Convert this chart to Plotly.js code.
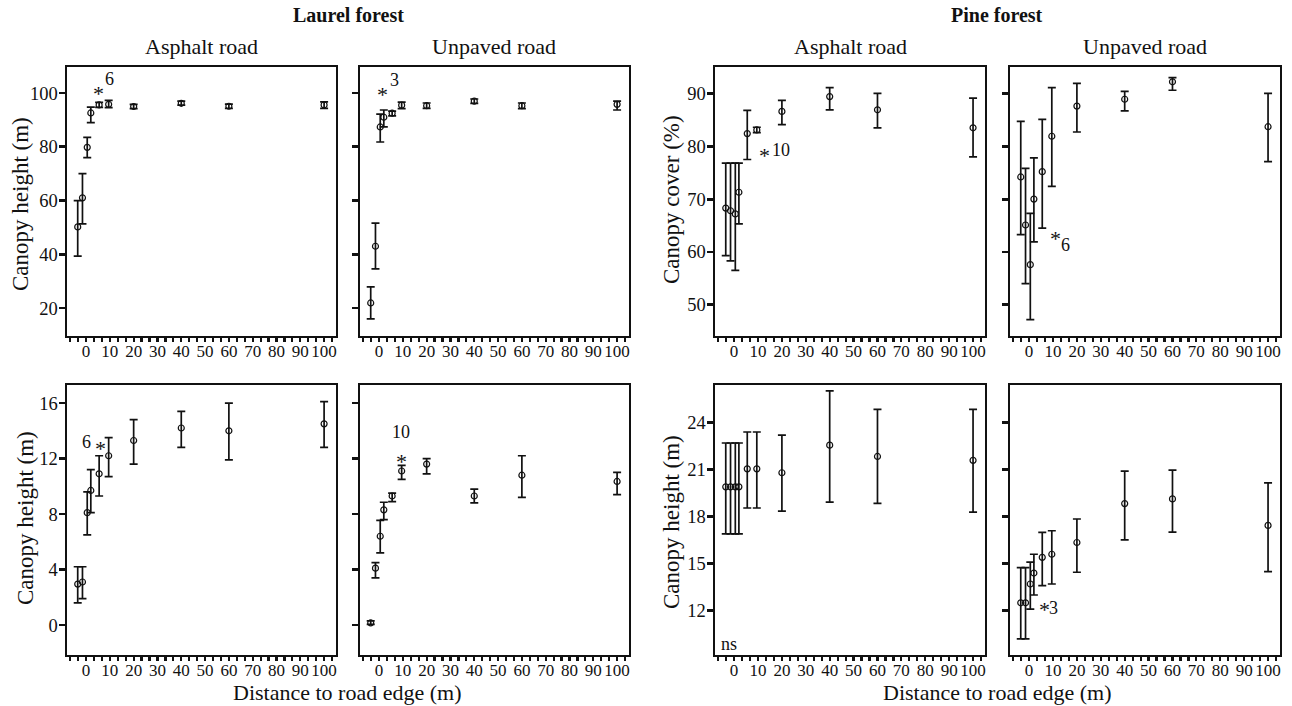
<!DOCTYPE html>
<html>
<head>
<meta charset="utf-8">
<script src="https://cdn.plot.ly/plotly-3.0.1.min.js"></script>
<style>html,body{margin:0;padding:0;background:#fff;}#chart{width:1292px;height:706px;}</style>
</head>
<body>
<div id="chart"></div>
<script>
// Distance to road edge (m) - shared x positions of the sampling points
const distance = [-3.5, -1.5, 0.5, 2, 5.5, 9.5, 20, 40, 60, 100];
const xTickVals = [0, 10, 20, 30, 40, 50, 60, 70, 80, 90, 100];

// Laurel forest, asphalt road, top panel
const laurelAsphaltTopMean  = [50.2, 61.0, 79.8, 92.6, 95.6, 95.8, 95.0, 96.2, 95.1, 95.6];
const laurelAsphaltTopUpper = [60.0, 70.0, 83.5, 94.8, 96.5, 97.3, 95.8, 97.0, 95.9, 96.7];
const laurelAsphaltTopLower = [39.3, 51.3, 76.0, 89.0, 94.7, 94.6, 94.2, 95.5, 94.3, 94.3];
// Laurel forest, unpaved road, top panel
const laurelUnpavedTopMean  = [21.9, 43.0, 87.4, 91.0, 92.5, 95.5, 95.3, 97.0, 95.3, 95.8];
const laurelUnpavedTopUpper = [27.9, 51.6, 92.2, 93.7, 93.3, 96.6, 96.3, 97.8, 96.3, 97.0];
const laurelUnpavedTopLower = [16.0, 34.6, 81.8, 87.4, 91.5, 94.2, 94.3, 96.2, 94.2, 93.7];
// Pine forest, asphalt road, canopy cover
const pineAsphaltTopMean  = [68.3, 67.8, 67.2, 71.3, 82.4, 83.1, 86.6, 89.4, 86.9, 83.5];
const pineAsphaltTopUpper = [76.8, 76.8, 76.8, 76.8, 86.8, 83.6, 88.7, 91.1, 90.0, 89.1];
const pineAsphaltTopLower = [59.3, 58.3, 56.5, 65.3, 77.5, 82.6, 84.1, 86.9, 83.5, 78.0];
// Pine forest, unpaved road, canopy cover
const pineUnpavedTopMean  = [74.2, 65.1, 57.6, 70.0, 75.2, 81.9, 87.6, 88.9, 92.2, 83.7];
const pineUnpavedTopUpper = [84.7, 75.8, 67.3, 77.8, 85.1, 91.1, 91.9, 90.4, 93.0, 90.0];
const pineUnpavedTopLower = [63.3, 54.0, 47.2, 61.9, 64.5, 72.4, 82.7, 86.7, 90.6, 77.1];
// Laurel forest, asphalt road, canopy height
const laurelAsphaltBotMean  = [2.95, 3.1, 8.1, 9.7, 10.9, 12.2, 13.3, 14.2, 14.0, 14.5];
const laurelAsphaltBotUpper = [4.2, 4.2, 9.6, 11.2, 12.2, 13.5, 14.8, 15.4, 16.0, 16.1];
const laurelAsphaltBotLower = [1.6, 1.9, 6.5, 8.1, 9.3, 10.7, 11.6, 12.8, 11.9, 12.8];
// Laurel forest, unpaved road, canopy height
const laurelUnpavedBotMean  = [0.15, 4.1, 6.4, 8.3, 9.3, 11.1, 11.6, 9.3, 10.8, 10.35];
const laurelUnpavedBotUpper = [0.3, 4.5, 7.55, 8.85, 9.5, 11.5, 12.0, 9.8, 12.2, 11.0];
const laurelUnpavedBotLower = [0.05, 3.4, 5.2, 7.6, 8.9, 10.5, 10.9, 8.8, 9.2, 9.4];
// Pine forest, asphalt road, canopy height
const pineAsphaltBotMean  = [19.9, 19.9, 19.9, 19.9, 21.05, 21.05, 20.8, 22.56, 21.84, 21.59];
const pineAsphaltBotUpper = [22.7, 22.7, 22.7, 22.7, 23.4, 23.4, 23.2, 26.03, 24.85, 24.85];
const pineAsphaltBotLower = [16.9, 16.9, 16.9, 16.9, 18.55, 18.55, 18.35, 18.93, 18.84, 18.29];
// Pine forest, unpaved road, canopy height
const pineUnpavedBotMean  = [12.5, 12.5, 13.7, 14.4, 15.4, 15.6, 16.35, 18.83, 19.13, 17.44];
const pineUnpavedBotUpper = [14.75, 14.75, 15.1, 15.6, 17.0, 17.1, 17.85, 20.9, 20.97, 20.15];
const pineUnpavedBotLower = [10.2, 10.2, 12.1, 13.0, 13.6, 13.7, 14.45, 16.52, 17.01, 14.49];

const W = 1292, H = 706;
const FONT = "Liberation Serif, Times New Roman, serif";
const px = v => v / W;
const py = v => 1 - v / H;

const panels = [
  {mean: laurelAsphaltTopMean, up: laurelAsphaltTopUpper, lo: laurelAsphaltTopLower, col: 0, row: 0, range: [9.6, 109.7], ticks: [20, 40, 60, 80, 100], labels: true},
  {mean: laurelUnpavedTopMean, up: laurelUnpavedTopUpper, lo: laurelUnpavedTopLower, col: 1, row: 0, range: [9.6, 109.7], ticks: [20, 40, 60, 80, 100], labels: false},
  {mean: pineAsphaltTopMean, up: pineAsphaltTopUpper, lo: pineAsphaltTopLower, col: 2, row: 0, range: [44.1, 95.0], ticks: [50, 60, 70, 80, 90], labels: true},
  {mean: pineUnpavedTopMean, up: pineUnpavedTopUpper, lo: pineUnpavedTopLower, col: 3, row: 0, range: [44.1, 95.0], ticks: [50, 60, 70, 80, 90], labels: false},
  {mean: laurelAsphaltBotMean, up: laurelAsphaltBotUpper, lo: laurelAsphaltBotLower, col: 0, row: 1, range: [-2.16, 17.3], ticks: [0, 4, 8, 12, 16], labels: true},
  {mean: laurelUnpavedBotMean, up: laurelUnpavedBotUpper, lo: laurelUnpavedBotLower, col: 1, row: 1, range: [-2.16, 17.3], ticks: [0, 4, 8, 12, 16], labels: false},
  {mean: pineAsphaltBotMean, up: pineAsphaltBotUpper, lo: pineAsphaltBotLower, col: 2, row: 1, range: [9.17, 26.4], ticks: [12, 15, 18, 21, 24], labels: true},
  {mean: pineUnpavedBotMean, up: pineUnpavedBotUpper, lo: pineUnpavedBotLower, col: 3, row: 1, range: [9.17, 26.4], ticks: [12, 15, 18, 21, 24], labels: false}
];

const colPx = [[67, 336], [360, 629], [715, 985], [1010, 1280]];
const rowPx = [[67, 336], [385, 655]];

const data = [];
const layout = {
  width: W, height: H,
  margin: {l: 0, r: 0, t: 0, b: 0},
  paper_bgcolor: '#ffffff', plot_bgcolor: '#ffffff',
  showlegend: false,
  font: {family: FONT, color: '#111', size: 17},
  annotations: []
};

panels.forEach((p, i) => {
  const n = i + 1;
  const xa = 'x' + (n === 1 ? '' : n), ya = 'y' + (n === 1 ? '' : n);
  data.push({
    type: 'scatter', mode: 'markers', x: distance, y: p.mean,
    xaxis: xa, yaxis: ya,
    marker: {symbol: 'circle-open', size: 6, color: '#111', line: {width: 1.2, color: '#111'}},
    error_y: {type: 'data', symmetric: false,
      array: p.up.map((u, k) => u - p.mean[k]),
      arrayminus: p.lo.map((l, k) => p.mean[k] - l),
      color: '#111', thickness: 1.7, width: 4},
    hoverinfo: 'x+y'
  });
  const c = colPx[p.col], r = rowPx[p.row];
  layout['xaxis' + (n === 1 ? '' : n)] = {
    domain: [px(c[0]), px(c[1])], anchor: ya,
    range: [-8, 105], tickmode: 'array', tickvals: xTickVals, tickangle: 0,
    showline: true, mirror: true, linecolor: '#111', linewidth: 1.6,
    ticks: 'outside', ticklen: 4, tickwidth: 2.2, tickcolor: '#111',
    ticklabelstandoff: -5,
    minor: {tickmode: 'linear', tick0: 0, dtick: 10 / 3, ticks: 'outside', ticklen: 4, tickwidth: 2.2, tickcolor: '#111'},
    showgrid: false, zeroline: false, fixedrange: true,
    tickfont: {family: FONT, size: 17, color: '#111'}
  };
  layout['yaxis' + (n === 1 ? '' : n)] = {
    domain: [py(r[1]), py(r[0])], anchor: xa,
    range: p.range, tickmode: 'array', tickvals: p.ticks, showticklabels: p.labels,
    showline: true, mirror: true, linecolor: '#111', linewidth: 1.6,
    ticks: 'outside', ticklen: 6, tickwidth: 2.8, tickcolor: '#111',
    ticklabelstandoff: -2,
    showgrid: false, zeroline: false, fixedrange: true,
    tickfont: {family: FONT, size: 18.5, color: '#111'}
  };
});

function paperText(text, x, y, size, opts) {
  layout.annotations.push(Object.assign({
    text: text, xref: 'paper', yref: 'paper', x: px(x), y: py(y),
    xanchor: 'center', yanchor: 'middle', showarrow: false,
    font: {family: FONT, size: size, color: '#111'}
  }, opts || {}));
}
function dataText(text, n, x, y, size) {
  layout.annotations.push({
    text: text, xref: 'x' + (n === 1 ? '' : n), yref: 'y' + (n === 1 ? '' : n), x: x, y: y,
    xanchor: 'center', yanchor: 'middle', showarrow: false,
    font: {family: FONT, size: size, color: '#111'}
  });
}

// Group and panel titles
paperText('<b>Laurel forest</b>', 348, 15, 20);
paperText('<b>Pine forest</b>', 997, 15, 20);
paperText('Asphalt road', 201, 46, 22);
paperText('Unpaved road', 494, 46, 22);
paperText('Asphalt road', 850, 46, 22);
paperText('Unpaved road', 1145, 46, 22);
// Axis titles
paperText('Canopy height (m)', 20, 204, 23, {textangle: -90});
paperText('Canopy height (m)', 25, 518, 23, {textangle: -90});
paperText('Canopy cover (%)', 671, 200, 23, {textangle: -90});
paperText('Canopy height (m)', 671, 522, 23, {textangle: -90});
paperText('Distance to road edge (m)', 347, 692, 22);
paperText('Distance to road edge (m)', 997, 692, 22);

// Significance marks
dataText('*', 1, 5.1, 100.0, 22);
dataText('6', 1, 9.7, 105.2, 18);
dataText('*', 2, 1.3, 99.4, 22);
dataText('3', 2, 6.7, 104.8, 18);
dataText('*', 3, 12.8, 78.3, 22);
dataText('10', 3, 19.5, 79.3, 18);
dataText('*', 4, 11.2, 62.6, 22);
dataText('6', 4, 15.4, 61.4, 18);
dataText('6', 5, 0.2, 13.2, 18);
dataText('*', 5, 5.9, 12.7, 22);
dataText('10', 6, 9.3, 13.9, 18);
dataText('*', 6, 9.3, 11.8, 22);
dataText('ns', 7, -2, 9.9, 18);
dataText('*', 8, 6.3, 12.1, 22);
dataText('3', 8, 10.2, 12.2, 18);

Plotly.newPlot('chart', data, layout, {displayModeBar: false, staticPlot: true});
</script>
</body>
</html>
